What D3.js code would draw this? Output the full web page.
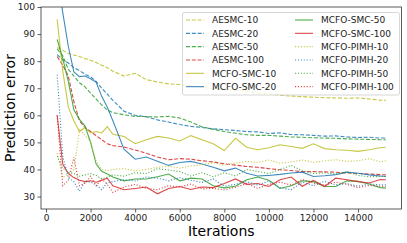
<!DOCTYPE html>
<html>
<head>
<meta charset="utf-8">
<script src="https://cdn.jsdelivr.net/npm/d3@7"></script>
<style>
  body { margin: 0; background: #fff; }
  svg { display: block; font-family: "DejaVu Sans", sans-serif; }
</style>
</head>
<body>
<svg id="chart" width="407" height="243"></svg>
<script>
// data
var iters = [500, 750, 1000, 1250, 1500, 1750, 2000, 2250, 2500, 2750, 3000, 3500, 4000, 4500, 5000, 5500, 6000, 6500, 7000, 7500, 8000, 8500, 9000, 9500, 10000, 10500, 11000, 11500, 12000, 12500, 13000, 13500, 14000, 14500, 15000, 15250];

var aesmc10 = [85, 84, 82.8, 82.3, 81.7, 81, 80.3, 79.5, 78.5, 77.6, 76.3, 74.5, 75.5, 73.2, 72.3, 71.6, 71.4, 70.8, 70.4, 69.8, 69.7, 69.3, 68.9, 68.3, 67.9, 67.4, 67.1, 66.9, 66.7, 66.5, 66.4, 66.3, 66.4, 66, 65.6, 65.5];
var aesmc20 = [82.4, 80.5, 79.3, 77.6, 76.5, 75.2, 74.2, 72.5, 70, 67.8, 65.5, 61.5, 60, 59.5, 58.3, 57.5, 56.6, 55.9, 55.5, 55, 54.7, 54.4, 54, 53.9, 53.3, 53.5, 52.9, 52.8, 52.6, 52.3, 52.4, 52, 51.8, 51.9, 51.6, 51.6];
var aesmc50 = [84.5, 82, 77, 74.5, 72, 70.5, 68.2, 66, 63.8, 62, 61, 60.2, 59.6, 59.5, 59.4, 59.6, 59, 57.5, 55.8, 54.8, 54, 53.4, 52.8, 52.6, 52.6, 52.3, 52, 51.9, 51.7, 51.6, 51.5, 51.3, 51.2, 51.1, 51, 51];
var aesmc100 = [81.7, 78.5, 74.5, 65, 58, 55.5, 54, 52.5, 51, 49.5, 48.8, 48.3, 47.2, 46, 44.6, 43.6, 44, 43.8, 43.2, 42.8, 42.1, 41.6, 41.1, 40.8, 40.3, 39.9, 39.6, 39.2, 39.2, 39.1, 39, 38.7, 38.5, 38.3, 38.1, 38];
var smc10 = [95.5, 76.5, 63, 58, 54, 55.5, 53.5, 54, 53.5, 55.8, 53, 52.2, 49.5, 51, 52.2, 51.6, 50.5, 52.5, 51, 49.5, 47, 51.5, 48.2, 47.3, 48, 49.1, 48.5, 47.8, 49.5, 47.7, 47.3, 47.1, 46.7, 47.3, 48, 48.2];
var smc20 = [112, 98, 85.5, 76, 74.3, 74.5, 73.5, 72.2, 67, 63, 58, 47.5, 43.8, 44.6, 43, 41.5, 42.6, 43, 42, 40.8, 39.5, 40.5, 38.6, 37.6, 37.8, 38.2, 38.7, 39, 37.4, 37.7, 38.1, 39, 38.6, 38, 37.6, 37.4];
var smc50 = [88, 81, 72.5, 62, 58.5, 56, 50, 42, 39.3, 38.3, 37.2, 35.8, 36.5, 36.5, 37.3, 38.3, 35.8, 36.8, 36.5, 34, 33.2, 33.8, 36.2, 37.2, 36, 33, 34, 35.8, 35.5, 33.7, 33.7, 35.8, 35.6, 34.6, 33.3, 33.1];
var smc100 = [60, 42, 38.5, 37, 36, 35.5, 35.8, 35.3, 36, 36.8, 34, 32.5, 33, 33.5, 31, 33, 33.7, 32.6, 33.5, 33.3, 34.8, 36.5, 34.5, 34.8, 33.7, 36.2, 37.2, 33.8, 36, 33.7, 36.8, 36.2, 35.5, 35, 36.3, 36.2];
var pimh10 = [46, 37, 38.5, 40, 55, 52.5, 50.5, 43, 40, 39.5, 40, 40.3, 39.5, 40, 40.8, 41.2, 40.5, 41.3, 41.8, 42.5, 41.6, 42.3, 43, 42.6, 43.5, 42.3, 42.8, 43.5, 42.6, 43.2, 43.6, 43, 43.2, 44, 42.8, 43.2];
var pimh20 = [75, 45, 37, 35.5, 32, 35.5, 35.3, 34.3, 32.5, 35.2, 35.5, 36.2, 35.8, 37.2, 36.8, 35.8, 37, 36, 35.2, 36.5, 33.8, 34.5, 35.5, 34.2, 35.8, 33.3, 32.5, 35.3, 34, 35.6, 34.3, 34.8, 33.8, 34.7, 34.3, 34.3];
var pimh50 = [45, 40.5, 39, 38.5, 37.5, 38, 38.5, 37.8, 36.5, 37.2, 38, 37.5, 38.8, 38.5, 40.3, 39.8, 39.2, 37.6, 38.8, 37.3, 38.8, 37.6, 40, 39.3, 38.5, 40, 41.5, 39.5, 38.5, 38.8, 38.3, 39.2, 37.8, 37.3, 37.4, 37.4];
var pimh100 = [60, 34, 36, 44.5, 34, 35, 37.5, 34, 36.5, 34.5, 31.5, 33.5, 34.5, 33, 32.5, 34, 33.5, 34.6, 32.8, 33, 32.5, 33.4, 34.8, 33, 34.5, 35.3, 34.2, 36.3, 35, 34.2, 35.3, 34.5, 33.3, 34.1, 33.8, 33.7];

var names = ["AESMC-10", "AESMC-20", "AESMC-50", "AESMC-100",
             "MCFO-SMC-10", "MCFO-SMC-20", "MCFO-SMC-50", "MCFO-SMC-100",
             "MCFO-PIMH-10", "MCFO-PIMH-20", "MCFO-PIMH-50", "MCFO-PIMH-100"];
var values = [aesmc10, aesmc20, aesmc50, aesmc100, smc10, smc20, smc50, smc100, pimh10, pimh20, pimh50, pimh100];

var xTicks = [0, 2000, 4000, 6000, 8000, 10000, 12000, 14000];
var yTicks = [30, 40, 50, 60, 70, 80, 90, 100];

// tab10 colours, one per particle count
var colors = ["#bcbd22", "#1f77b4", "#2ca02c", "#d62728"];
var dashes = ["4,1.8", null, "1.1,1.8"];

// plot box (avoid "top", it is window.top)
var boxL = 41, boxR = 401.5, boxT = 7, boxB = 209;

var svg = d3.select("#chart");

var x = d3.scaleLinear().domain([-225, 15950]).range([boxL, boxR]);
var y = d3.scaleLinear().domain([25.4, 100]).range([boxB, boxT]);

svg.append("clipPath").attr("id", "clip")
    .append("rect")
    .attr("x", boxL).attr("y", boxT)
    .attr("width", boxR - boxL).attr("height", boxB - boxT);

var line = d3.line()
    .x(function(d) { return x(d[0]); })
    .y(function(d) { return y(d[1]); });

var plot = svg.append("g").attr("clip-path", "url(#clip)");

values.forEach(function(vals, i) {
    var pts = iters.map(function(it, j) { return [it, vals[j]]; });
    plot.append("path")
        .attr("d", line(pts))
        .attr("fill", "none")
        .attr("stroke", colors[i % 4])
        .attr("stroke-opacity", 0.85)
        .attr("stroke-width", 1.1)
        .attr("stroke-dasharray", dashes[Math.floor(i / 4)]);
});

// axes
var xAxis = svg.append("g")
    .attr("transform", "translate(0," + boxB + ")")
    .call(d3.axisBottom(x).tickValues(xTicks).tickSize(3.5).tickPadding(2.5).tickFormat(d3.format("d")));

var yAxis = svg.append("g")
    .attr("transform", "translate(" + boxL + ",0)")
    .call(d3.axisLeft(y).tickValues(yTicks).tickSize(3.5).tickPadding(2.5));

[xAxis, yAxis].forEach(function(ax) {
    ax.select(".domain").remove();
    ax.selectAll(".tick line").attr("stroke", "#333").attr("stroke-width", 0.8);
    ax.selectAll(".tick text")
        .attr("fill", "#222")
        .style("font-family", "'DejaVu Sans', sans-serif")
        .style("font-size", "9px");
});

svg.append("rect")
    .attr("x", boxL).attr("y", boxT)
    .attr("width", boxR - boxL).attr("height", boxB - boxT)
    .attr("fill", "none")
    .attr("stroke", "#333")
    .attr("stroke-width", 0.8);

svg.append("text")
    .attr("x", (boxL + boxR) / 2)
    .attr("y", 235.5)
    .attr("text-anchor", "middle")
    .style("font-size", "14px")
    .text("Iterations");

svg.append("text")
    .attr("transform", "translate(14.5," + (boxT + boxB) / 2 + ") rotate(-90)")
    .attr("text-anchor", "middle")
    .style("font-size", "14px")
    .text("Prediction error");

// legend
var legend = svg.append("g");
legend.append("rect")
    .attr("x", 182.5).attr("y", 12.5)
    .attr("width", 217).attr("height", 82.5)
    .attr("rx", 2)
    .attr("fill", "#fff").attr("fill-opacity", 0.8)
    .attr("stroke", "#ccc").attr("stroke-width", 0.8);

names.forEach(function(name, i) {
    var col = i < 6 ? 0 : 1;
    var row = i % 6;
    var hx = col === 0 ? 186 : 295;
    var ly = 20 + row * 13.33;
    legend.append("line")
        .attr("x1", hx).attr("x2", hx + 18)
        .attr("y1", ly).attr("y2", ly)
        .attr("stroke", colors[i % 4])
        .attr("stroke-opacity", 0.85)
        .attr("stroke-width", 1.1)
        .attr("stroke-dasharray", dashes[Math.floor(i / 4)]);
    legend.append("text")
        .attr("x", hx + 26)
        .attr("y", ly + 3.3)
        .style("font-size", "9px")
        .attr("fill", "#222")
        .text(name);
});
</script>
</body>
</html>
